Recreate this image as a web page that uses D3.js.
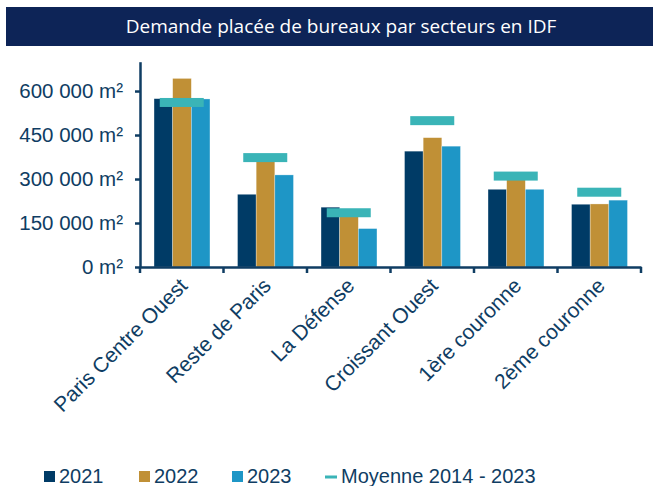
<!DOCTYPE html>
<html>
<head>
<meta charset="utf-8">
<script src="https://cdn.jsdelivr.net/npm/d3@7"></script>
<style>
  body { margin: 0; background: #fff; }
  svg { display: block; }
</style>
</head>
<body>
<div id="root"></div>
<script>
// données
const secteurs = ['Paris Centre Ouest', 'Reste de Paris', 'La Défense', 'Croissant Ouest', '1ère couronne', '2ème couronne'];
const annees = ['2021', '2022', '2023'];
const v2021 = [574000, 248000, 204000, 395000, 265000, 214000];
const v2022 = [643000, 360000, 175000, 441000, 300000, 215000];
const v2023 = [573000, 314000, 131000, 412000, 265000, 228000];
const moyenne = [561000, 373000, 185000, 499000, 310000, 255000];
const yTicks = [0, 150000, 300000, 450000, 600000];

const width = 659, height = 486;
const axisColor = '#0f3d63';
const textColor = '#0f3d63';
const colors = { '2021': '#003b66', '2022': '#c09036', '2023': '#1e96c6' };
const moyColor = '#3ab4b7';
const font = 'Liberation Sans, Arial, sans-serif';

const series = { '2021': v2021, '2022': v2022, '2023': v2023 };

const svg = d3.select('#root').append('svg')
    .attr('width', width)
    .attr('height', height);

// bandeau titre
svg.append('rect')
    .attr('x', 6).attr('y', 7)
    .attr('width', 647).attr('height', 39)
    .attr('fill', '#0d2457');
svg.append('text')
    .attr('x', 341).attr('y', 32.5)
    .attr('text-anchor', 'middle')
    .attr('font-family', 'Open Sans, sans-serif')
    .attr('font-size', 19)
    .attr('font-weight', 500)
    .attr('fill', '#fff')
    .text('Demande placée de bureaux par secteurs en IDF');

const x = d3.scaleBand()
    .domain(secteurs)
    .range([140, 641])
    .padding(0);

const bw = x.bandwidth();
const x1 = d3.scaleBand()
    .domain(annees)
    .range([bw * 0.168, bw * 0.838])
    .padding(0);

const y = d3.scaleLinear()
    .domain([0, 700000])
    .range([267, 61.7]);

const fmt = v => d3.format(',')(v).replace(/,/g, ' ') + ' m²';

// axe Y
const gy = svg.append('g')
    .attr('transform', 'translate(140,0)')
    .call(d3.axisLeft(y).tickValues(yTicks).tickFormat(fmt).tickSize(5).tickPadding(12).tickSizeOuter(0));
gy.select('.domain').attr('stroke', axisColor).attr('stroke-width', 2.5);
gy.selectAll('.tick line').attr('stroke', axisColor).attr('stroke-width', 2.5);
gy.selectAll('.tick text')
    .attr('fill', textColor)
    .attr('font-family', font)
    .attr('font-size', 20.5);

// barres
const groups = svg.append('g').selectAll('g')
    .data(secteurs)
    .join('g')
    .attr('transform', d => `translate(${x(d)},0)`);

groups.selectAll('rect')
    .data((d, i) => annees.map(a => ({ a, v: series[a][i] })))
    .join('rect')
    .attr('x', d => x1(d.a))
    .attr('y', d => y(d.v))
    .attr('width', x1.bandwidth())
    .attr('height', d => y(0) - y(d.v))
    .attr('fill', d => colors[d.a])
    .attr('stroke', '#ffffff')
    .attr('stroke-opacity', 0.5)
    .attr('stroke-width', 0.6);

// moyenne 2014 - 2023
const markW = 44, markH = 9;
svg.append('g').selectAll('rect')
    .data(secteurs)
    .join('rect')
    .attr('x', d => x(d) + bw / 2 - markW / 2)
    .attr('y', (d, i) => y(moyenne[i]) - markH / 2)
    .attr('width', markW)
    .attr('height', markH)
    .attr('fill', moyColor);

// axe X
const gx = svg.append('g')
    .attr('transform', `translate(0,${y(0)})`)
    .call(d3.axisBottom(x).tickSize(0).tickSizeOuter(0));
gx.select('.domain').attr('stroke', axisColor).attr('stroke-width', 2.5);
gx.selectAll('.tick text').remove();

// graduations entre les catégories
const bornes = [140].concat(secteurs.map(s => x(s) + bw));
gx.selectAll('.sep')
    .data(bornes)
    .join('line')
    .attr('class', 'sep')
    .attr('x1', d => d).attr('x2', d => d)
    .attr('y1', 0).attr('y2', 6)
    .attr('stroke', axisColor)
    .attr('stroke-width', 2.5);

// libellés inclinés
svg.append('g').selectAll('text')
    .data(secteurs)
    .join('text')
    .attr('transform', d => `translate(${x(d) + bw / 2 + 7},${y(0) + 20}) rotate(-45)`)
    .attr('text-anchor', 'end')
    .attr('font-family', font)
    .attr('font-size', 21)
    .attr('fill', textColor)
    .text(d => d);

// légende
const legY = 477;
const leg = svg.append('g')
    .attr('font-family', font)
    .attr('font-size', 20)
    .attr('fill', textColor);

const legItems = [
    { label: '2021', x: 44, color: colors['2021'], type: 'sq' },
    { label: '2022', x: 139, color: colors['2022'], type: 'sq' },
    { label: '2023', x: 232, color: colors['2023'], type: 'sq' },
    { label: 'Moyenne 2014 - 2023', x: 325, color: moyColor, type: 'line' }
];
legItems.forEach(it => {
    if (it.type === 'sq') {
        leg.append('rect')
            .attr('x', it.x).attr('y', legY - 6)
            .attr('width', 11).attr('height', 11)
            .attr('fill', it.color);
    } else {
        leg.append('rect')
            .attr('x', it.x).attr('y', legY - 1.5)
            .attr('width', 12).attr('height', 3)
            .attr('fill', it.color);
    }
    leg.append('text')
        .attr('x', it.x + (it.type === 'sq' ? 15 : 16))
        .attr('y', legY + 5.5)
        .text(it.label);
});
</script>
</body>
</html>
